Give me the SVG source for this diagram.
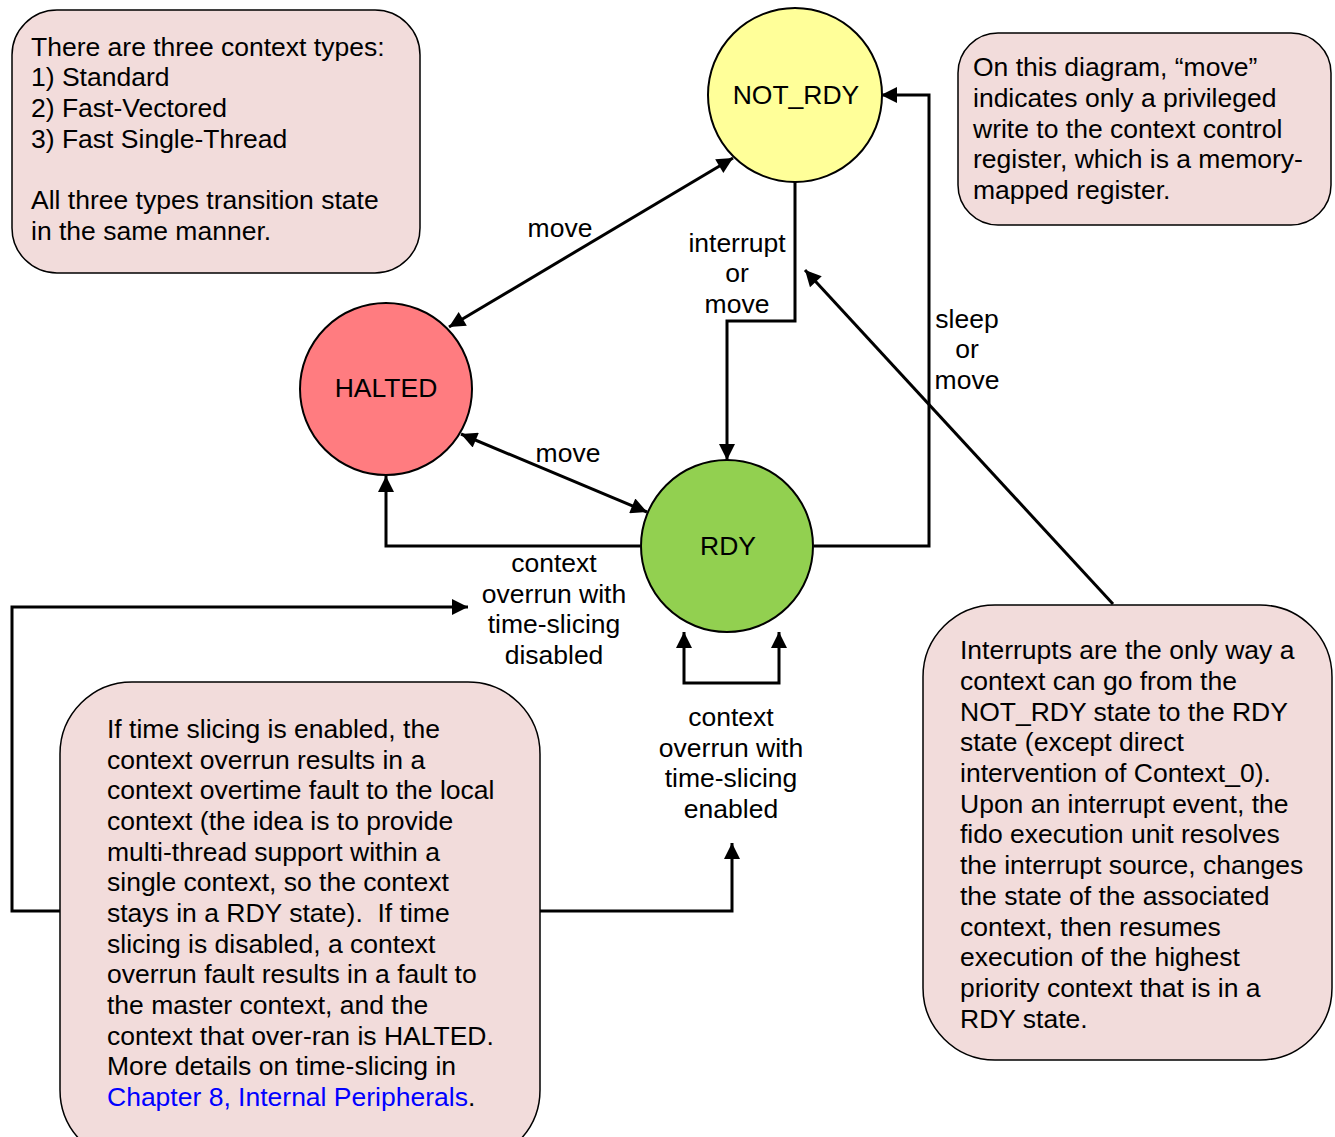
<svg xmlns="http://www.w3.org/2000/svg" width="1335" height="1137" viewBox="0 0 1335 1137">
  <style>
    text { font-family: "Liberation Sans", Arial, sans-serif; font-size: 26.5px; fill: #000; }
    .c { text-anchor: middle; }
    .note { fill: #f2dcdb; stroke: #000; stroke-width: 1.5; }
    .state { stroke: #000; stroke-width: 2; }
    .wire { fill: none; stroke: #000; stroke-width: 3; }
    .link { fill: #0000ff; }
  </style>
  <defs>
    <marker id="tip" viewBox="0 0 10 10" refX="10" refY="5" markerWidth="22" markerHeight="16" markerUnits="userSpaceOnUse" orient="auto-start-reverse">
      <path d="M0,0 L10,5 L0,10 z" fill="#000"/>
    </marker>
  </defs>
  <rect width="1335" height="1137" fill="#fff"/>

  <!-- connectors -->
  <g id="connectors">
    <line class="wire" x1="449" y1="327" x2="733" y2="158" marker-start="url(#tip)" marker-end="url(#tip)"/>
    <polyline class="wire" points="795,182 795,321 727,321 727,460" marker-end="url(#tip)"/>
    <polyline class="wire" points="814,546 929,546 929,95 881,95" marker-end="url(#tip)"/>
    <line class="wire" x1="1113" y1="604" x2="805" y2="270" stroke-width="2.5" marker-end="url(#tip)"/>
    <line class="wire" x1="461" y1="434" x2="647" y2="512" marker-start="url(#tip)" marker-end="url(#tip)"/>
    <polyline class="wire" points="640,546 386,546 386,476" marker-end="url(#tip)"/>
    <polyline class="wire" points="730,683 684,683 684,632" marker-end="url(#tip)"/>
    <polyline class="wire" points="730,683 779,683 779,632" marker-end="url(#tip)"/>
    <polyline class="wire" points="60,911 12,911 12,607 468,607" marker-end="url(#tip)"/>
    <polyline class="wire" points="540,911 732,911 732,843" marker-end="url(#tip)"/>
  </g>

  <!-- connector labels -->
  <g id="labels">
    <text class="c" x="560" y="237">move</text>
    <text class="c" x="737" y="252">interrupt</text>
    <text class="c" x="737" y="282">or</text>
    <text class="c" x="737" y="313">move</text>
    <text class="c" x="967" y="328">sleep</text>
    <text class="c" x="967" y="358">or</text>
    <text class="c" x="967" y="389">move</text>
    <text class="c" x="568" y="462">move</text>
    <text class="c" x="554" y="572">context</text>
    <text class="c" x="554" y="603">overrun with</text>
    <text class="c" x="554" y="633">time-slicing</text>
    <text class="c" x="554" y="664">disabled</text>
    <text class="c" x="731" y="726">context</text>
    <text class="c" x="731" y="757">overrun with</text>
    <text class="c" x="731" y="787">time-slicing</text>
    <text class="c" x="731" y="818">enabled</text>
  </g>

  <!-- states -->
  <g id="not-rdy">
    <circle class="state" cx="795" cy="95" r="87" fill="#ffff99"/>
    <text class="c" x="796" y="104">NOT_RDY</text>
  </g>
  <g id="halted">
    <circle class="state" cx="386" cy="389" r="86" fill="#ff7c80"/>
    <text class="c" x="386" y="397">HALTED</text>
  </g>
  <g id="rdy">
    <circle class="state" cx="727" cy="546" r="86" fill="#92d050"/>
    <text class="c" x="728" y="555">RDY</text>
  </g>

  <!-- notes -->
  <g id="note-types">
    <rect class="note" x="12" y="10" width="408" height="263" rx="45"/>
    <text x="31" y="56">There are three context types:</text>
    <text x="31" y="86">1) Standard</text>
    <text x="31" y="117">2) Fast-Vectored</text>
    <text x="31" y="148">3) Fast Single-Thread</text>
    <text x="31" y="209">All three types transition state</text>
    <text x="31" y="240">in the same manner.</text>
  </g>
  <g id="note-move">
    <rect class="note" x="958" y="33" width="373" height="192" rx="40"/>
    <text x="973" y="76">On this diagram, “move”</text>
    <text x="973" y="107">indicates only a privileged</text>
    <text x="973" y="138">write to the context control</text>
    <text x="973" y="168">register, which is a memory-</text>
    <text x="973" y="199">mapped register.</text>
  </g>
  <g id="note-timeslice">
    <rect class="note" x="60" y="682" width="480" height="480" rx="72"/>
    <text x="107" y="738">If time slicing is enabled, the</text>
    <text x="107" y="769">context overrun results in a</text>
    <text x="107" y="799">context overtime fault to the local</text>
    <text x="107" y="830">context (the idea is to provide</text>
    <text x="107" y="861">multi-thread support within a</text>
    <text x="107" y="891">single context, so the context</text>
    <text x="107" y="922" xml:space="preserve">stays in a RDY state).  If time</text>
    <text x="107" y="953">slicing is disabled, a context</text>
    <text x="107" y="983">overrun fault results in a fault to</text>
    <text x="107" y="1014">the master context, and the</text>
    <text x="107" y="1045">context that over-ran is HALTED.</text>
    <text x="107" y="1075">More details on time-slicing in</text>
    <text x="107" y="1106"><tspan class="link">Chapter 8, Internal Peripherals</tspan>.</text>
  </g>
  <g id="note-interrupts">
    <rect class="note" x="923" y="605" width="409" height="455" rx="72"/>
    <text x="960" y="659">Interrupts are the only way a</text>
    <text x="960" y="690">context can go from the</text>
    <text x="960" y="721">NOT_RDY state to the RDY</text>
    <text x="960" y="751">state (except direct</text>
    <text x="960" y="782">intervention of Context_0).</text>
    <text x="960" y="813">Upon an interrupt event, the</text>
    <text x="960" y="843">fido execution unit resolves</text>
    <text x="960" y="874">the interrupt source, changes</text>
    <text x="960" y="905">the state of the associated</text>
    <text x="960" y="936">context, then resumes</text>
    <text x="960" y="966">execution of the highest</text>
    <text x="960" y="997">priority context that is in a</text>
    <text x="960" y="1028">RDY state.</text>
  </g>
</svg>
